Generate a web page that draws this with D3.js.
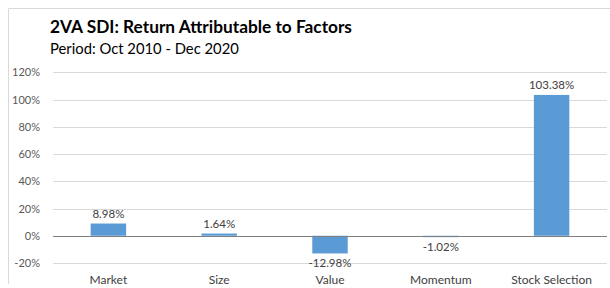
<!DOCTYPE html>
<html>
<head>
<meta charset="utf-8">
<script src="https://cdn.jsdelivr.net/npm/d3@7"></script>
<style>
body { margin:0; background:#fff; }
text { font-family: Lato, "Open Sans", sans-serif; }
</style>
</head>
<body>
<div id="chart"></div>
<script>
var categories = ["Market", "Size", "Value", "Momentum", "Stock Selection"];
var values = [8.98, 1.64, -12.98, -1.02, 103.38];
var ticks = [-20, 0, 20, 40, 60, 80, 100, 120];

var width = 610, height = 288;
var svg = d3.select("#chart").append("svg")
	.attr("width", width)
	.attr("height", height);

// frame
svg.append("path")
	.attr("d", "M8.5 284 L8.5 8.5 L610 8.5")
	.attr("fill", "none")
	.attr("stroke", "#d9d9d9")
	.attr("stroke-width", 1);

svg.append("text")
	.text("2VA SDI: Return Attributable to Factors")
	.attr("x", 50).attr("y", 33)
	.style("font-size", "17.3px")
	.style("font-weight", "bold")
	.attr("fill", "#000");

svg.append("text")
	.text("Period: Oct 2010 - Dec 2020")
	.attr("x", 50).attr("y", 54)
	.style("font-size", "14.8px")
	.attr("fill", "#000");

var left = 53, right = 607;
var y = d3.scaleLinear().domain([-20, 120]).range([263, 72.3]);
var x = d3.scaleBand().domain(categories).range([left, right]).paddingInner(0.68).paddingOuter(0.34);

var grid = svg.append("g");
grid.selectAll("line").data(ticks.filter(function(d){ return d !== 0; }))
	.enter().append("line")
	.attr("x1", left).attr("x2", right)
	.attr("y1", function(d){ return Math.round(y(d)) + 0.5; })
	.attr("y2", function(d){ return Math.round(y(d)) + 0.5; })
	.attr("stroke", "#d9d9d9");

svg.append("g").selectAll("text").data(ticks)
	.enter().append("text")
	.text(function(d){ return d + "%"; })
	.attr("x", 40)
	.attr("y", function(d){ return y(d) + 4; })
	.style("text-anchor", "end")
	.style("font-size", "11px")
	.attr("fill", "#595959");

svg.append("g").selectAll("rect").data(values)
	.enter().append("rect")
	.attr("x", function(d, i){ return x(categories[i]); })
	.attr("width", x.bandwidth())
	.attr("y", function(d){ return y(Math.max(d, 0)); })
	.attr("height", function(d){ return Math.abs(y(d) - y(0)); })
	.attr("fill", "#5b9bd5");

svg.append("line")
	.attr("x1", left).attr("x2", right)
	.attr("y1", Math.round(y(0)) + 0.5).attr("y2", Math.round(y(0)) + 0.5)
	.attr("stroke", "#7f7f7f");

svg.append("g").selectAll("text").data(values)
	.enter().append("text")
	.text(function(d){ return d.toFixed(2) + "%"; })
	.attr("x", function(d, i){ return x(categories[i]) + x.bandwidth() / 2; })
	.attr("y", function(d){ return d >= 0 ? y(d) - 6 : y(d) + 14; })
	.style("text-anchor", "middle")
	.style("font-size", "11.5px")
	.attr("fill", "#404040");

svg.append("g").selectAll("text").data(categories)
	.enter().append("text")
	.text(function(d){ return d; })
	.attr("x", function(d){ return x(d) + x.bandwidth() / 2; })
	.attr("y", 284)
	.style("text-anchor", "middle")
	.style("font-size", "12px")
	.attr("fill", "#404040");
</script>
</body>
</html>
